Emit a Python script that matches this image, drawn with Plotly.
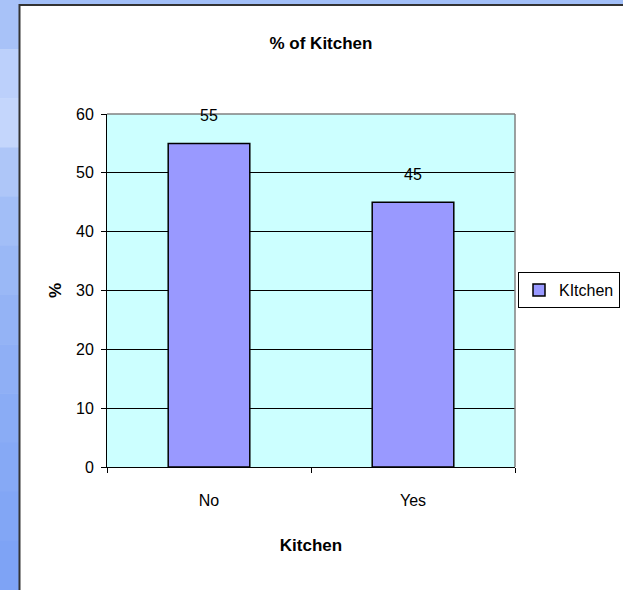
import plotly.graph_objects as go

categories = ["No", "Yes"]
values = [55, 45]
series_name = "KItchen"
y_ticks = [0, 10, 20, 30, 40, 50, 60]

W, H = 623, 590
L, R, T, B = 107, 515, 114, 467
pw, ph = R - L, B - T

def px(x):
    return (x - L) / pw

def py(y):
    return (B - y) / ph

FONT = "Liberation Sans, Arial, sans-serif"

fig = go.Figure()
fig.add_trace(go.Bar(
    x=categories, y=values, name=series_name,
    marker=dict(color="#9999FF", line=dict(color="#000000", width=1.5)),
    width=0.4, showlegend=True,
))

for c, v in zip(categories, values):
    fig.add_annotation(x=c, y=v, text=str(v), showarrow=False, yshift=28,
                       font=dict(family=FONT, size=16, color="#000"))

shapes = []
# blue background strip on the left (vertical gradient approximated by bands)
band_colors = ["#A8C2F8", "#BCD0FB", "#C4D6FC", "#AEC6F8", "#A2BEF7", "#9AB8F6",
               "#94B3F5", "#8FAFF5", "#8AACF5", "#86A9F5", "#82A6F5", "#7EA3F5"]
nb = len(band_colors)
for i, col in enumerate(band_colors):
    y0 = i * H / nb
    y1 = (i + 1) * H / nb
    shapes.append(dict(type="rect", xref="paper", yref="paper",
                       x0=px(0), x1=px(19), y0=py(y1 + 0.5), y1=py(y0),
                       fillcolor=col, line=dict(width=0), layer="above"))
shapes.append(dict(type="rect", xref="paper", yref="paper",
                   x0=px(19), x1=px(W), y0=py(4), y1=py(0),
                   fillcolor="#A2BFF8", line=dict(width=0), layer="above"))
# chart area border
shapes.append(dict(type="line", xref="paper", yref="paper",
                   x0=px(19.5), x1=px(19.5), y0=py(H), y1=py(4),
                   line=dict(color="#333333", width=2), layer="above"))
shapes.append(dict(type="line", xref="paper", yref="paper",
                   x0=px(19), x1=px(W), y0=py(5), y1=py(5),
                   line=dict(color="#333333", width=2), layer="above"))
# plot area border (top / right gray)
shapes.append(dict(type="line", xref="paper", yref="paper",
                   x0=0, x1=1, y0=1, y1=1, line=dict(color="#808080", width=1.5), layer="above"))
shapes.append(dict(type="line", xref="paper", yref="paper",
                   x0=1, x1=1, y0=0, y1=1, line=dict(color="#808080", width=1.5), layer="above"))

fig.update_layout(
    width=W, height=H,
    margin=dict(l=L, r=W - R, t=T, b=H - B, autoexpand=False),
    paper_bgcolor="#FFFFFF",
    plot_bgcolor="#CCFFFF",
    font=dict(family=FONT, size=16, color="#000"),
    title=dict(text="<b>% of Kitchen</b>", x=321 / W, xanchor="center",
               y=1 - 43 / H, yanchor="middle", font=dict(size=17, family=FONT)),
    bargap=0.6,
    shapes=shapes,
    legend=dict(x=px(518), y=py(272), xanchor="left", yanchor="top",
                bgcolor="#FFFFFF", bordercolor="#000", borderwidth=1,
                font=dict(size=16, family=FONT), itemwidth=30,
                tracegroupgap=0),
    xaxis=dict(
        type="category", tickson="boundaries", ticks="outside", ticklen=5,
        tickcolor="#000", showline=True, linecolor="#000", linewidth=1,
        showgrid=False, ticklabelstandoff=19,
        title=dict(text="<b>Kitchen</b>", font=dict(size=17, family=FONT), standoff=30),
    ),
    yaxis=dict(
        range=[0, 60], tickvals=y_ticks, ticks="outside", ticklen=5,
        tickcolor="#000", showline=True, linecolor="#000", linewidth=1,
        showgrid=True, gridcolor="#000", gridwidth=1, zeroline=False,
        ticklabelstandoff=4,
        title=dict(text="<b>%</b>", font=dict(size=17, family=FONT), standoff=10),
    ),
)

fig.write_html("out.html", config={"displayModeBar": False},
               post_script="document.body.style.margin='0';")
